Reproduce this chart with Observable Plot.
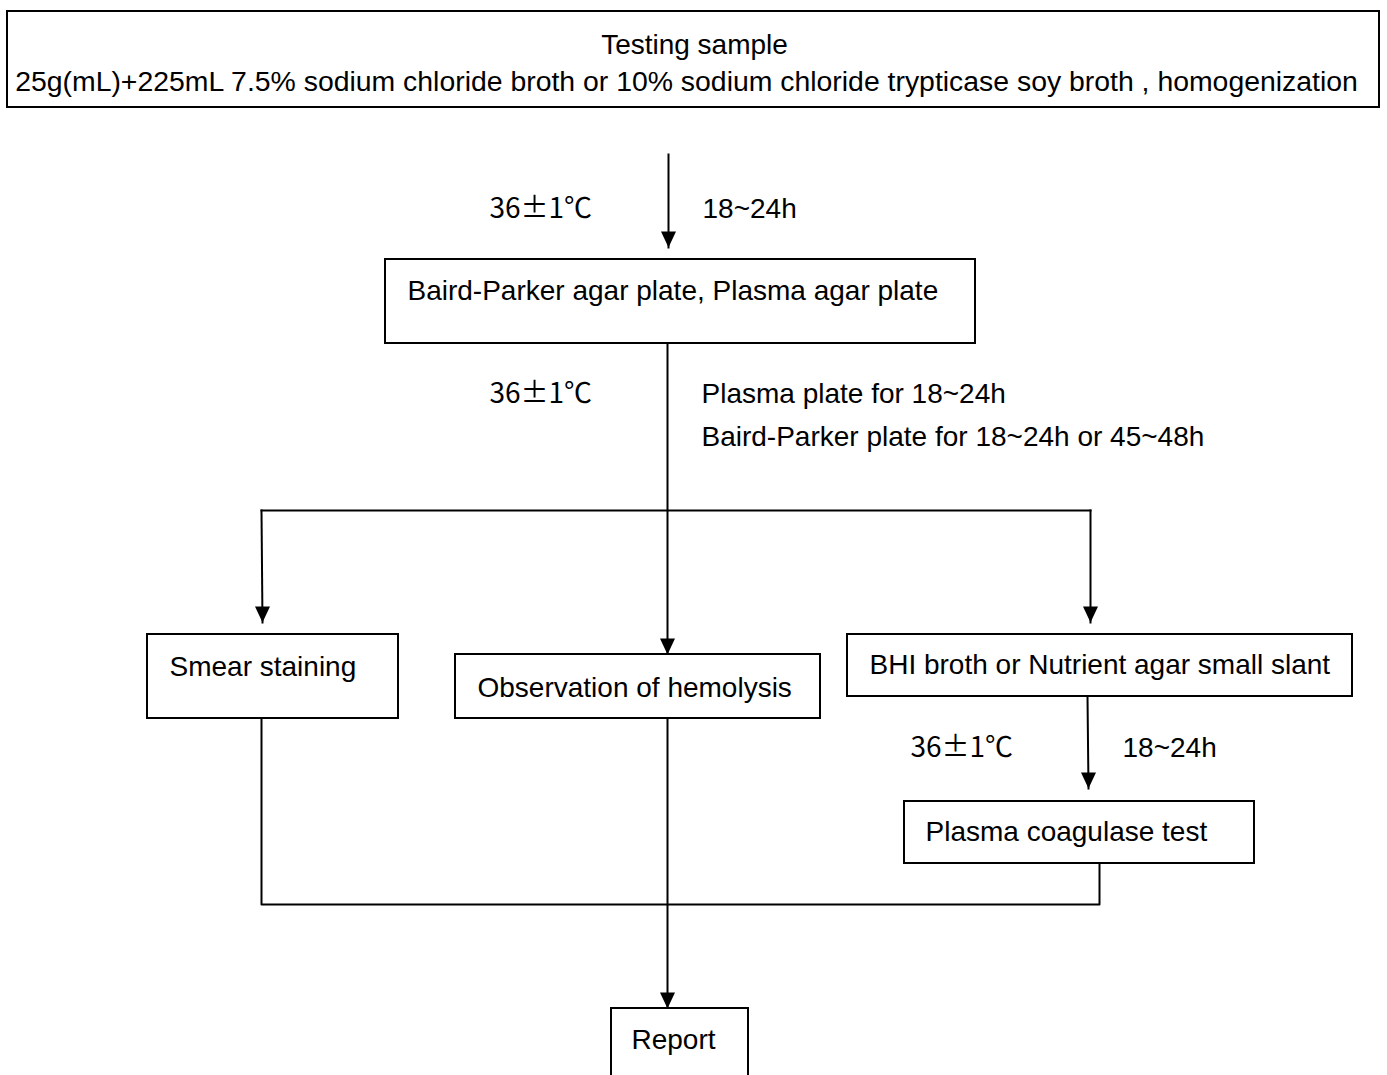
<!DOCTYPE html>
<html>
<head>
<meta charset="utf-8">
<script src="https://cdn.jsdelivr.net/npm/d3@7"></script>
<script src="https://cdn.jsdelivr.net/npm/@observablehq/plot@0.6"></script>
<style>
  html, body { margin: 0; padding: 0; background: #fff; }
  #chart svg { display: block; }
</style>
</head>
<body>
<div id="chart"></div>
<script>
// ---- Content (texts of the flowchart) ----
const stepLabels = [
  "Testing sample",
  "Baird-Parker agar plate, Plasma agar plate",
  "Smear staining",
  "Observation of hemolysis",
  "BHI broth or Nutrient agar small slant",
  "Plasma coagulase test",
  "Report"
];
const sampleNote = "25g(mL)+225mL 7.5% sodium chloride broth or 10% sodium chloride trypticase soy broth , homogenization";
const temperatureLabel = "36\u00B11\u2103";
const durationLabels = [
  "18~24h",
  "Plasma plate for 18~24h",
  "Baird-Parker plate for 18~24h or 45~48h",
  "18~24h"
];

// ---- Layout (pixel geometry of the diagram) ----
const boxLayout = [
  {x1: 7,   x2: 1379, y1: 11,   y2: 107,  tx: 694, ty: 45,   anchor: "middle"},
  {x1: 385, x2: 975,  y1: 259,  y2: 343,  tx: 407, ty: 291,  anchor: "start"},
  {x1: 147, x2: 398,  y1: 634,  y2: 718,  tx: 169, ty: 667,  anchor: "start"},
  {x1: 455, x2: 820,  y1: 654,  y2: 718,  tx: 477, ty: 688,  anchor: "start"},
  {x1: 847, x2: 1352, y1: 634,  y2: 696,  tx: 869, ty: 665,  anchor: "start"},
  {x1: 904, x2: 1254, y1: 801,  y2: 863,  tx: 925, ty: 832,  anchor: "start"},
  {x1: 611, x2: 748,  y1: 1008, y2: 1090, tx: 631, ty: 1040, anchor: "start"}
];
const boxes = stepLabels.map((label, i) => ({label, ...boxLayout[i]}));

const notes = [
  {text: sampleNote,        x: 686,  y: 81,  anchor: "middle", temp: false},
  {text: temperatureLabel,  x: 489,  y: 209, anchor: "start",  temp: true},
  {text: durationLabels[0], x: 702,  y: 209, anchor: "start",  temp: false},
  {text: temperatureLabel,  x: 489,  y: 394, anchor: "start",  temp: true},
  {text: durationLabels[1], x: 701,  y: 394, anchor: "start",  temp: false},
  {text: durationLabels[2], x: 701,  y: 437, anchor: "start",  temp: false},
  {text: temperatureLabel,  x: 910,  y: 748, anchor: "start",  temp: true},
  {text: durationLabels[3], x: 1122, y: 748, anchor: "start",  temp: false}
];

// connector paths: list of points; arrow = arrowhead at last point
const connectors = [
  {pts: [[668, 154], [668, 247]], arrow: true},
  {pts: [[667, 343], [667, 654]], arrow: true},
  {pts: [[261, 510], [1090, 510]], arrow: false},
  {pts: [[261, 510], [262, 622]], arrow: true},
  {pts: [[1090, 510], [1090, 622]], arrow: true},
  {pts: [[1087, 696], [1088, 788]], arrow: true},
  {pts: [[261, 718], [261, 904], [1099, 904], [1099, 863]], arrow: false},
  {pts: [[667, 718], [667, 1008]], arrow: true}
];
const linePoints = connectors.flatMap((c, i) => c.pts.map(([x, y]) => ({id: i, x, y})));
const arrowTips = connectors.filter(c => c.arrow).map(c => {
  const [x, y] = c.pts[c.pts.length - 1];
  return {x, y};
});

// downward filled arrowhead, tip at the anchor point
const arrowHead = {
  draw(ctx) {
    ctx.moveTo(-7.5, -16);
    ctx.lineTo(7.5, -16);
    ctx.lineTo(0, 0);
    ctx.closePath();
  }
};

const font = "'Liberation Sans', Arial, sans-serif";
const cjkFont = "'Noto Sans CJK SC', 'Liberation Sans', sans-serif";
const fs = 28;

const textOpts = {fontSize: fs, fontFamily: font, fill: "black", lineAnchor: "middle"};

const chart = Plot.plot({
  width: 1387,
  height: 1075,
  margin: 0,
  x: {domain: [0, 1387], range: [0, 1387], axis: null},
  y: {domain: [0, 1075], range: [0, 1075], axis: null},
  style: {fontFamily: font, background: "#fff"},
  marks: [
    Plot.line(linePoints, {x: "x", y: "y", z: "id", stroke: "black", strokeWidth: 2, strokeLinecap: "square"}),
    Plot.rect(boxes, {x1: "x1", x2: "x2", y1: "y1", y2: "y2", fill: "white", stroke: "black", strokeWidth: 2}),
    Plot.dot(arrowTips, {x: "x", y: "y", symbol: arrowHead, fill: "black", stroke: "none", r: 5}),
    Plot.text(boxes.filter(d => d.anchor === "middle"), {x: "tx", y: "ty", text: "label", textAnchor: "middle", ...textOpts}),
    Plot.text(boxes.filter(d => d.anchor === "start"), {x: "tx", y: "ty", text: "label", textAnchor: "start", ...textOpts}),
    Plot.text(notes.filter(d => d.anchor === "middle"), {x: "x", y: "y", text: "text", textAnchor: "middle", ...textOpts, fontSize: 28.4}),
    Plot.text(notes.filter(d => d.anchor === "start" && !d.temp), {x: "x", y: "y", text: "text", textAnchor: "start", ...textOpts}),
    Plot.text(notes.filter(d => d.temp), {x: "x", y: "y", text: "text", textAnchor: "start", ...textOpts, fontFamily: cjkFont})
  ]
});
document.getElementById("chart").appendChild(chart);
</script>
</body>
</html>
